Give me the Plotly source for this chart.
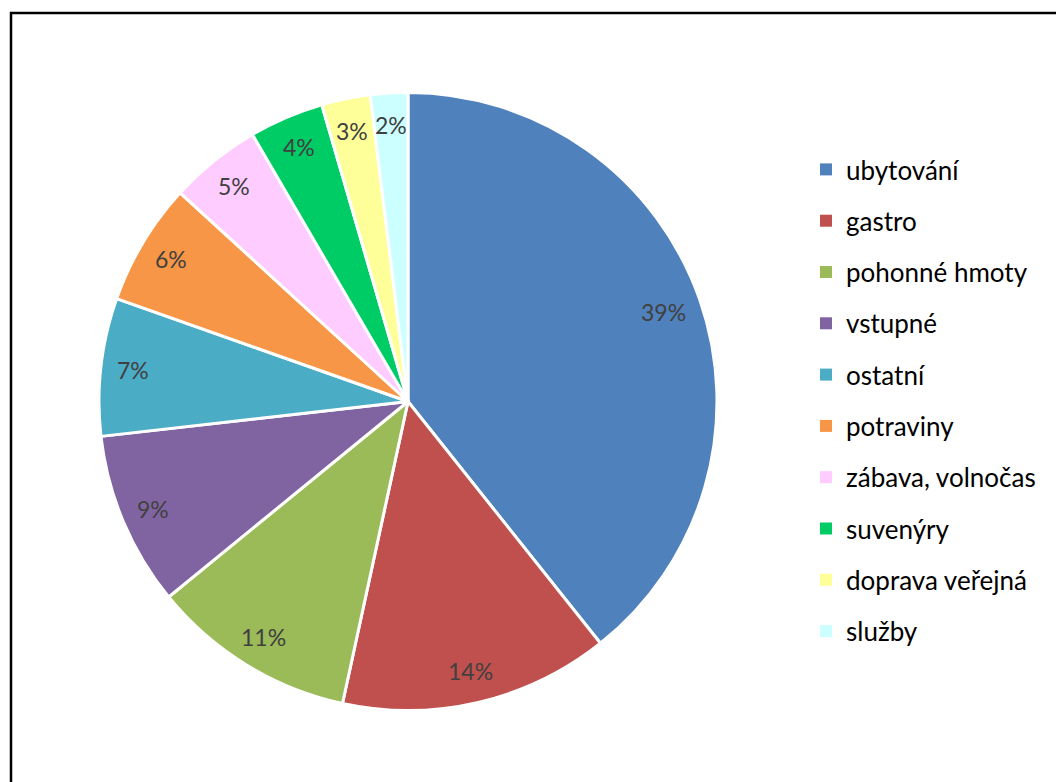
import math
import plotly.graph_objects as go

categories = ["ubytování", "gastro", "pohonné hmoty", "vstupné", "ostatní",
              "potraviny", "zábava, volnočas", "suvenýry", "doprava veřejná", "služby"]
values = [39.3, 14.1, 10.7, 9.1, 7.2, 6.4, 4.8, 3.9, 2.55, 1.95]
colors = ["#4F81BD", "#C0504D", "#9BBB59", "#8064A2", "#4BACC6",
          "#F79646", "#FFCCFF", "#00CC66", "#FFFF99", "#CCFFFF"]

W, H = 1056, 782
cx, cy, R = 408, 401.5, 309  # pie centre / radius in pixels (layout)

fig = go.Figure()
fig.add_trace(go.Pie(
    labels=categories, values=values, sort=False, direction="clockwise",
    rotation=0, marker=dict(colors=colors, line=dict(color="white", width=3)),
    textinfo="none", showlegend=False, hoverinfo="label+percent",
    domain=dict(x=[(cx - R) / W, (cx + R) / W], y=[1 - (cy + R) / H, 1 - (cy - R) / H]),
))

# percentage labels placed near the outer edge of each slice (Excel "best fit")
total = sum(values)
cum = 0.0
annotations = []
for v in values:
    mid = (cum + v / 2) / total * 2 * math.pi
    cum += v
    rf = 0.875 if v / total > 0.3 else 0.895
    px = cx + rf * R * math.sin(mid)
    py = cy - rf * R * math.cos(mid)
    pct = math.floor(v / total * 100 + 0.5)
    annotations.append(dict(
        x=px / W, y=1 - py / H, xref="paper", yref="paper", showarrow=False,
        text=f"{pct}%",
        font=dict(family="Lato, Open Sans, sans-serif", size=23, color="#404040"),
        xanchor="center", yanchor="middle"))

for i, (c, col) in enumerate(zip(categories, colors)):
    fig.add_trace(go.Scatter(
        x=[None], y=[None], mode="markers", name=c, legendgroup=f"g{i}",
        marker=dict(symbol="square", size=12, color=col),
        showlegend=True,
    ))

fig.update_layout(
    width=W, height=H,
    margin=dict(l=0, r=0, t=0, b=0),
    paper_bgcolor="white", plot_bgcolor="white",
    xaxis=dict(visible=False), yaxis=dict(visible=False),
    legend=dict(x=806 / W, y=1 - 146 / H, xanchor="left", yanchor="top",
                font=dict(family="Lato, Open Sans, sans-serif", size=26, color="#000000"),
                tracegroupgap=14.5, itemsizing="trace", bgcolor="rgba(0,0,0,0)"),
    annotations=annotations,
    shapes=[dict(type="rect", xref="paper", yref="paper",
                 x0=11 / W, x1=1.05, y0=-0.05, y1=1 - 13 / H,
                 line=dict(color="black", width=2.5))],
)

fig.write_html("out.html")
